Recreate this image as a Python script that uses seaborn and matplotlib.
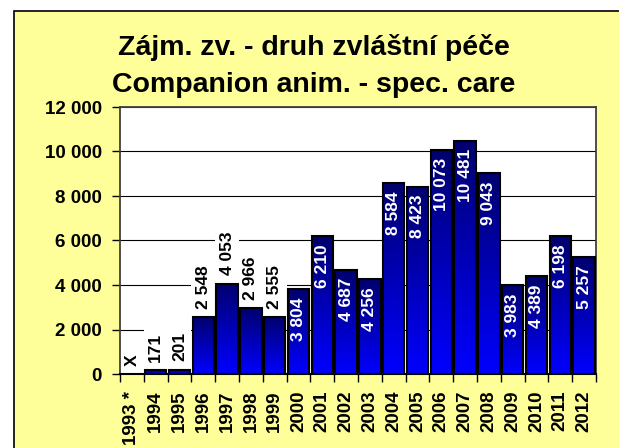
import numpy as np
import pandas as pd
import matplotlib
matplotlib.use("Agg")
import matplotlib.pyplot as plt
import seaborn as sns
from matplotlib.colors import LinearSegmentedColormap
from matplotlib.patches import Rectangle

# ---- data ----
years = ["1993 *", "1994", "1995", "1996", "1997", "1998", "1999", "2000", "2001",
         "2002", "2003", "2004", "2005", "2006", "2007", "2008", "2009", "2010",
         "2011", "2012"]
values = [np.nan, 171, 201, 2548, 4053, 2966, 2555, 3804, 6210, 4687, 4256,
          8584, 8423, 10073, 10481, 9043, 3983, 4389, 6198, 5257]
missing_label = "X"
title_cz = "Zájm. zv. - druh zvláštní péče"
title_en = "Companion anim. - spec. care"
yticks = [0, 2000, 4000, 6000, 8000, 10000, 12000]
first_inside_year = 2000  # labels drawn inside the bar from this year on


def fmt(v):
    return f"{int(v):,}".replace(",", " ")


sns.set_style("white")
plt.rcParams["font.family"] = ["Liberation Sans", "DejaVu Sans"]
plt.rcParams["font.weight"] = "bold"
plt.rcParams["text.color"] = "black"
plt.rcParams["xtick.color"] = "black"
plt.rcParams["ytick.color"] = "black"
plt.rcParams["xtick.labelcolor"] = "black"
plt.rcParams["ytick.labelcolor"] = "black"

W, H = 619, 448
fig = plt.figure(figsize=(W / 100, H / 100), dpi=100)
fig.patch.set_facecolor("white")
fig.patches.append(Rectangle((14 / W, -0.2), 2, 1 - 11 / H + 0.2,
                             transform=fig.transFigure, facecolor="#FFFF99",
                             edgecolor="black", lw=1.2, zorder=-5))

ax = fig.add_axes([120 / W, 1 - 374 / H, 476 / W, 267 / H])
ax.set_zorder(2)
ax.set_facecolor("white")

df = pd.DataFrame({"year": years, "value": np.nan_to_num(values)})
sns.barplot(data=df, x="year", y="value", order=years, ax=ax, width=0.9,
            color="#0000FF", saturation=1, edgecolor="black", linewidth=1.5)

cmap = LinearSegmentedColormap.from_list("grad", ["#0000FF", "#00006E"])
grad = np.linspace(0, 1, 256).reshape(-1, 1)
for p in list(ax.patches):
    h = p.get_height()
    if h <= 0:
        p.set_visible(False)
        continue
    x0 = p.get_x()
    w = p.get_width()
    im = ax.imshow(grad, cmap=cmap, origin="lower", aspect="auto",
                   extent=[x0, x0 + w, 0, h], zorder=2.5, interpolation="bilinear")
    im.set_clip_path(p)
    p.set_facecolor("none")
    p.set_zorder(3)

ax.set_xlim(-0.5, len(years) - 0.5)
ax.set_ylim(0, 12000)
ax.set_axisbelow(True)
ax.yaxis.grid(True, color="black", lw=0.8)
ax.xaxis.grid(False)

# value labels
for i, (yr, v) in enumerate(zip(years, values)):
    if np.isnan(v):
        txt, yv, inside = missing_label, 0, False
    else:
        txt, yv = fmt(v), v
        inside = int(yr[:4]) >= first_inside_year
    if inside:
        ax.annotate(txt, (i, yv), xytext=(0, -6), textcoords="offset points",
                    rotation=90, ha="center", va="top", fontsize=12.5,
                    fontweight="bold", color="white", zorder=4)
    else:
        ax.annotate(txt, (i, yv), xytext=(0, 6), textcoords="offset points",
                    rotation=90, ha="center", va="bottom", fontsize=12.5,
                    fontweight="bold", color="black", zorder=1.8,
                    bbox=dict(boxstyle="square,pad=0.25", fc="white", ec="none"))

ax.set_yticks(yticks)
ax.set_yticklabels([fmt(t) for t in yticks], fontsize=13.5, fontweight="bold")
ax.set_xticks(range(len(years)))
ax.set_xticklabels(years, rotation=90, fontsize=13.5, fontweight="bold")
ax.set_xticks(np.arange(-0.5, len(years), 1), minor=True)
ax.tick_params(axis="x", which="major", length=0, pad=12, bottom=True)
ax.tick_params(axis="x", which="minor", length=6, width=1, color="black",
               direction="out", bottom=True)
ax.tick_params(axis="y", which="major", length=6, width=1, color="black",
               direction="out", pad=7, left=True)
ax.set_xlabel("")
ax.set_ylabel("")

for s in ["left", "top", "right"]:
    ax.spines[s].set_color("#404040")
    ax.spines[s].set_linewidth(1.3)
ax.spines["bottom"].set_color("black")
ax.spines["bottom"].set_linewidth(1.5)

fig.text(314 / W, 1 - 55 / H, title_cz, ha="center", va="baseline",
         fontsize=20.5, fontweight="bold", color="black")
fig.text(314 / W, 1 - 92 / H, title_en, ha="center", va="baseline",
         fontsize=20.5, fontweight="bold", color="black")

fig.savefig("out.png", dpi=100)
